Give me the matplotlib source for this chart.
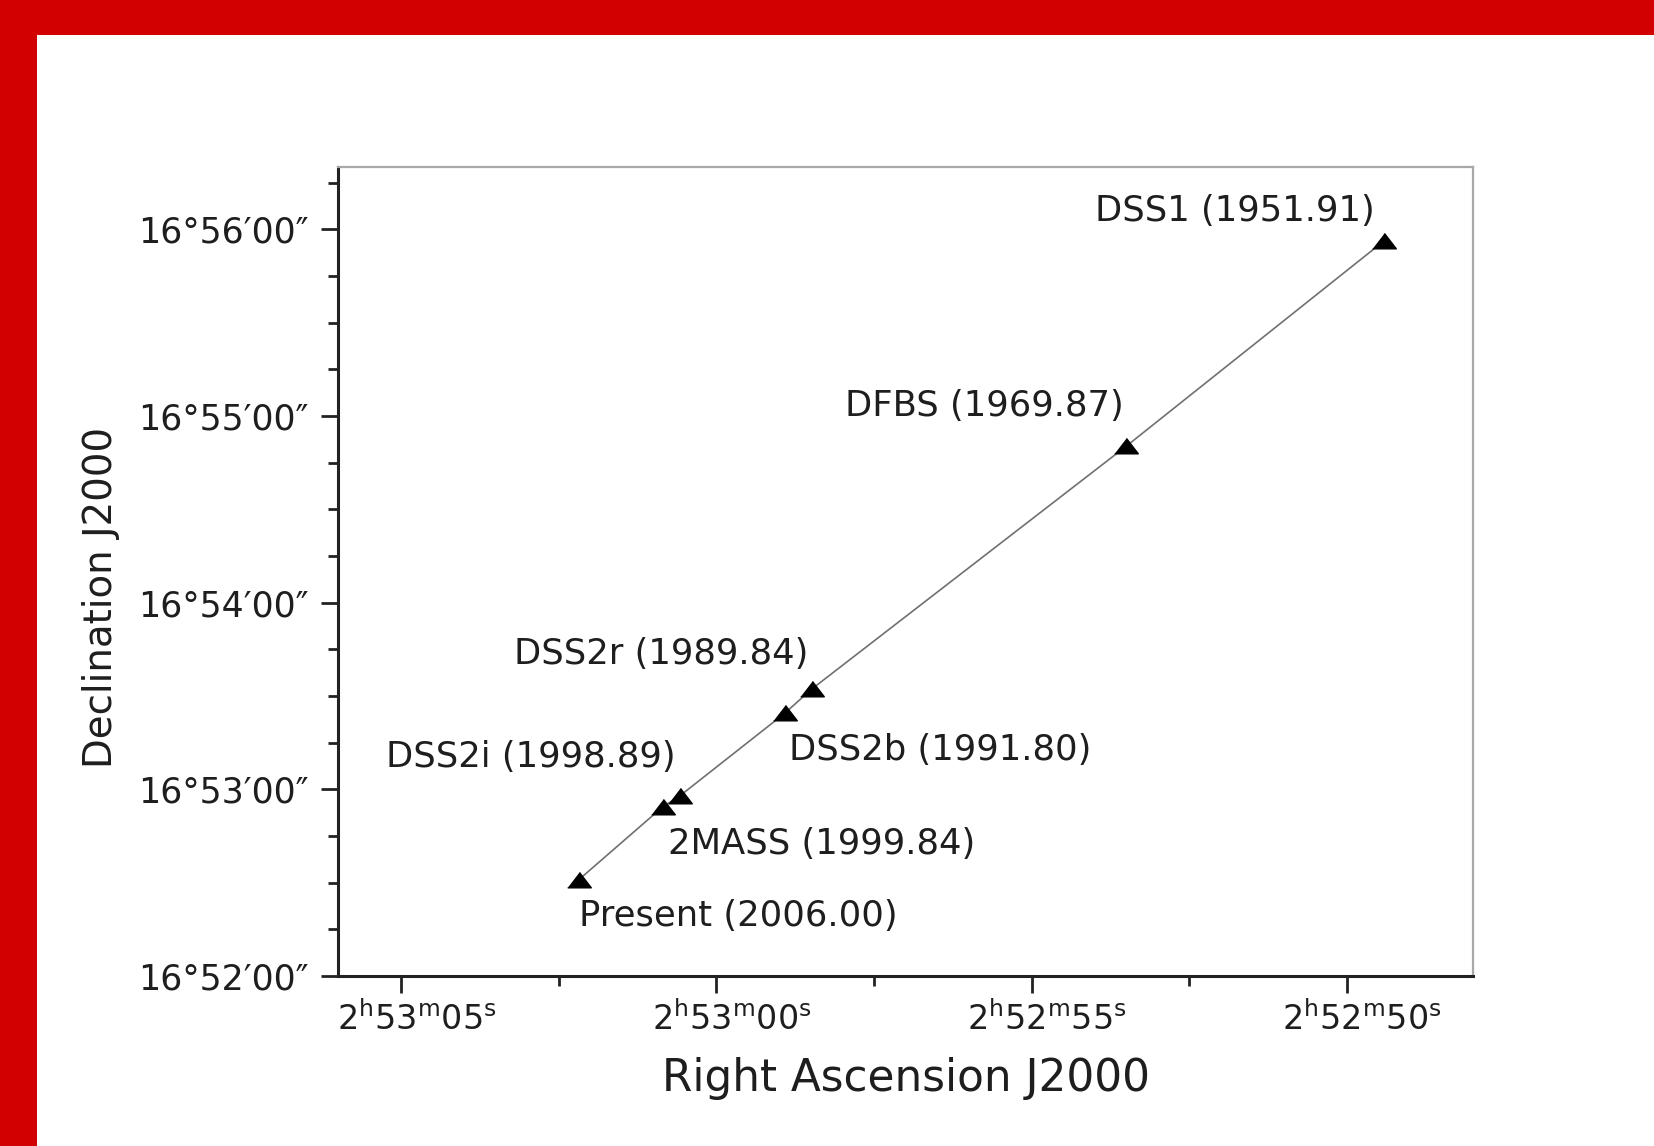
import matplotlib
matplotlib.use('Agg')
import matplotlib.pyplot as plt
import matplotlib.transforms as mtransforms
from matplotlib.ticker import FixedLocator, MultipleLocator

plt.rcParams['font.family'] = ['DejaVu Sans']
plt.rcParams['mathtext.fontset'] = 'dejavusans'

# epochs of the star position (RA seconds after 2h52m, Dec arcsec after 16d52m)
names = ['DSS1 (1951.91)', 'DFBS (1969.87)', 'DSS2r (1989.84)', 'DSS2b (1991.80)',
         'DSS2i (1998.89)', '2MASS (1999.84)', 'Present (2006.00)']
ra_sec = [49.41, 53.50, 58.49, 58.92, 60.58, 60.85, 62.18]
dec_arcsec = [236.3, 170.3, 92.2, 84.4, 57.9, 54.4, 31.0]

xticks = [65, 60, 55, 50]
xtick_labels = [r'$2^{\rm h}53^{\rm m}05^{\rm s}$', r'$2^{\rm h}53^{\rm m}00^{\rm s}$',
                r'$2^{\rm h}52^{\rm m}55^{\rm s}$', r'$2^{\rm h}52^{\rm m}50^{\rm s}$']
yticks = [0, 60, 120, 180, 240]
ytick_labels = ['16°52′00″', '16°53′00″', '16°54′00″', '16°55′00″', '16°56′00″']

# label placement: offset in points and alignment
label_off = [(-7, 21.5), (-1.5, 29), (-2, 25), (3, -26), (-3, 28), (3.5, -27), (0, -26)]
label_ha = ['right', 'right', 'right', 'left', 'right', 'left', 'left']

fig = plt.figure(figsize=(16.54, 11.46), dpi=100)
fig.patch.set_facecolor('#d20000')
fig.patches.append(plt.Rectangle((37 / 1654, 0), 1 - 37 / 1654, 1111 / 1146,
                                 transform=fig.transFigure, facecolor='white',
                                 edgecolor='none', zorder=-5))

ax = fig.add_axes([0.2044, 0.1483, 0.6862, 0.7059])
ax.set_zorder(2)
ax.set_xlim(66, 48)
ax.set_ylim(0, 260)

txt = '#1e1e1e'
ax.plot(ra_sec, dec_arcsec, color='#707070', lw=1.2, zorder=2)
tri = [(-1, -0.62), (1, -0.62), (0, 0.68)]
ax.plot(ra_sec, dec_arcsec, linestyle='none', marker=tri, markersize=17,
        color='black', zorder=3)

for i in range(len(names)):
    ax.annotate(names[i], (ra_sec[i], dec_arcsec[i]), xytext=label_off[i],
                textcoords='offset points', ha=label_ha[i], va='center',
                fontsize=25.5, color=txt)

ax.xaxis.set_major_locator(FixedLocator(xticks))
ax.set_xticklabels(xtick_labels)
ax.xaxis.set_minor_locator(FixedLocator([62.5, 57.5, 52.5]))
ax.yaxis.set_major_locator(FixedLocator(yticks))
ax.set_yticklabels(ytick_labels)
ax.yaxis.set_minor_locator(MultipleLocator(15))

ax.tick_params(which='major', direction='out', length=12, width=2, color='#222222',
               labelsize=25, labelcolor=txt, top=False, right=False)
ax.tick_params(axis='y', which='major', pad=9)
ax.tick_params(axis='x', which='major', pad=6, labelsize=24)
ax.tick_params(which='minor', direction='out', length=7, width=2, color='#222222',
               top=False, right=False)

# x tick labels sit a little right of their ticks in the original
shift = mtransforms.ScaledTranslation(11 / 72, 0, fig.dpi_scale_trans)
for lab in ax.get_xticklabels():
    lab.set_transform(lab.get_transform() + shift)

for s in ['left', 'bottom']:
    ax.spines[s].set_linewidth(2.2)
    ax.spines[s].set_color('#222222')
for s in ['top', 'right']:
    ax.spines[s].set_linewidth(1.6)
    ax.spines[s].set_color('#a8a8a8')

ax.set_xlabel('Right Ascension J2000', fontsize=31.5, color=txt)
ax.set_ylabel('Declination J2000', fontsize=27.9, color=txt)
ax.xaxis.set_label_coords(0.5, -0.1)
ax.yaxis.set_label_coords(-0.192, 0.468)

fig.savefig('out.png', dpi=100, facecolor=fig.get_facecolor())
